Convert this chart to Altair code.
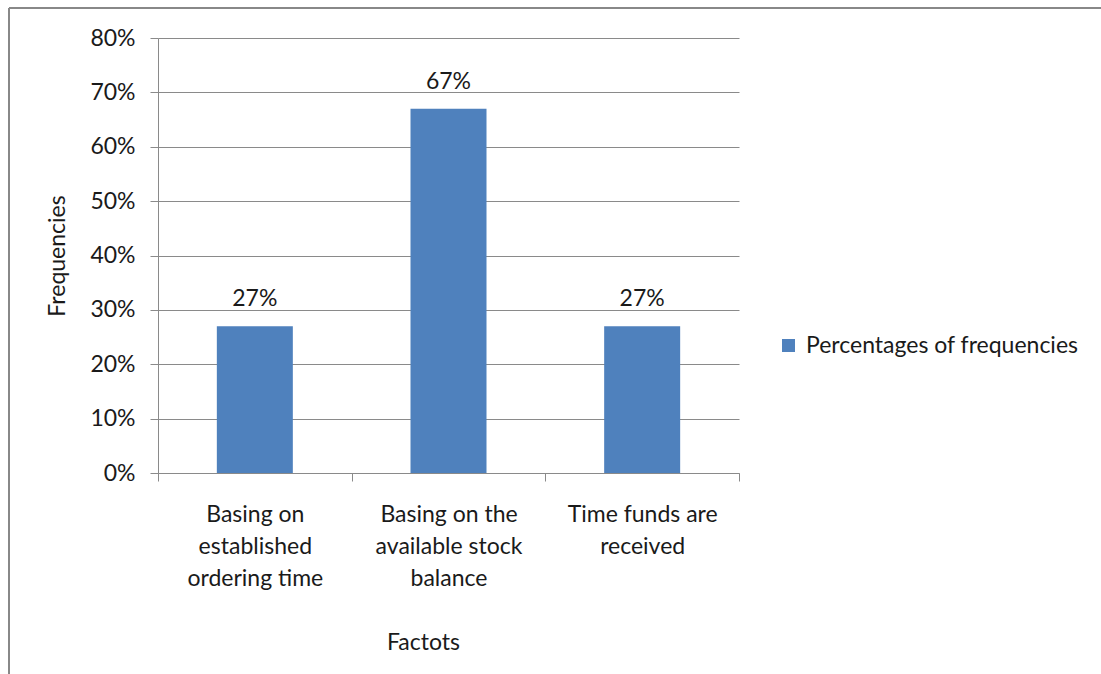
import altair as alt
import pandas as pd

categories = [
    "Basing on\nestablished\nordering time",
    "Basing on the\navailable stock\nbalance",
    "Time funds are\nreceived",
]
values = [0.27, 0.67, 0.27]
series_name = "Percentages of frequencies"
y_ticks = [0, 0.1, 0.2, 0.3, 0.4, 0.5, 0.6, 0.7, 0.8]

df = pd.DataFrame({"factor": categories, "pct": values, "series": [series_name] * 3})

FONT = "Lato"
FS = 23
GRID = "#8a8a8a"
TXT = "#1a1a1a"

x_enc = alt.X(
    "factor:N",
    sort=categories,
    scale=alt.Scale(paddingInner=0, paddingOuter=0),
    axis=alt.Axis(
        title="Factots",
        labelAngle=0,
        labelExpr="split(datum.label, '\\n')",
        labelLineHeight=32,
        labelFontSize=FS,
        labelFont=FONT,
        labelColor=TXT,
        labelBaseline="top",
        labelPadding=22,
        labelLimit=300,
        tickBand="extent",
        tickSize=8,
        tickColor=GRID,
        domainColor=GRID,
        titleFont=FONT,
        titleFontSize=FS,
        titleFontWeight="normal",
        titleColor=TXT,
        titleX=265,
        titleY=169,
        titleBaseline="middle",
        titleAlign="center",
    ),
)

y_enc = alt.Y(
    "pct:Q",
    scale=alt.Scale(domain=[0, 0.8], nice=False),
    axis=alt.Axis(
        title="Frequencies",
        values=y_ticks,
        format=".0%",
        grid=True,
        gridColor=GRID,
        tickSize=8,
        tickColor=GRID,
        domainColor=GRID,
        labelFontSize=FS,
        labelFont=FONT,
        labelColor=TXT,
        labelPadding=15,
        titleFont=FONT,
        titleFontSize=FS,
        titleFontWeight="normal",
        titleColor=TXT,
        titleX=-101,
        titleBaseline="middle",
    ),
)

bars = alt.Chart(df).mark_bar(size=76).encode(
    x=x_enc,
    y=y_enc,
    color=alt.Color(
        "series:N",
        scale=alt.Scale(domain=[series_name], range=["#4F81BD"]),
        legend=alt.Legend(
            title=None,
            orient="none",
            legendX=619,
            legendY=296,
            symbolType="square",
            symbolSize=170,
            symbolStrokeWidth=0,
            labelFontSize=FS,
            labelFont=FONT,
            labelColor=TXT,
            labelLimit=400,
            padding=0,
            labelOffset=6,
        ),
    ),
)

labels = alt.Chart(df).mark_text(
    baseline="alphabetic", dy=-20, fontSize=FS, font=FONT, color=TXT
).encode(
    x=alt.X("factor:N", sort=categories),
    y="pct:Q",
    text=alt.Text("pct:Q", format=".0%"),
)

frame_data = alt.Data(values=[{"k": 1}])
top_line = alt.Chart(frame_data).mark_rule(color="#888888", strokeWidth=2).encode(
    x=alt.value(-149), x2=alt.value(943), y=alt.value(-30)
)
left_line = alt.Chart(frame_data).mark_rule(color="#888888", strokeWidth=2).encode(
    x=alt.value(-149), y=alt.value(-30), y2=alt.value(636)
)

chart = alt.layer(bars, labels, top_line, left_line).properties(
    width=581,
    height=435,
    autosize=alt.AutoSizeParams(type="none"),
    padding={"left": 158, "top": 38, "right": 362, "bottom": 201},
    background="white",
).configure_view(stroke=None)

chart.save("out.html", embed_options={"renderer": "svg", "actions": False})
